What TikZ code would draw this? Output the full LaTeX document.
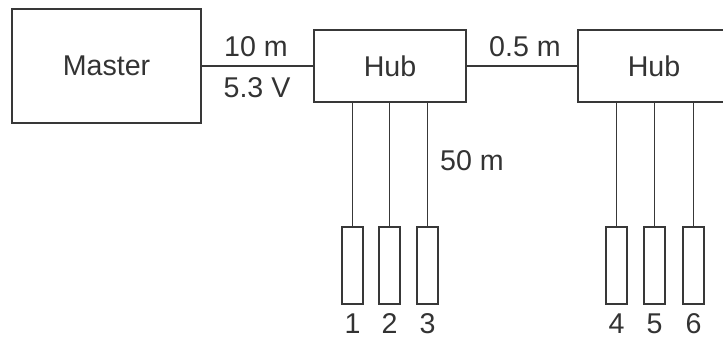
\documentclass[tikz,border=0pt]{standalone}
\usepackage{fontspec}
\setmainfont{Liberation Sans}
\begin{document}
\begin{tikzpicture}[x=0.5pt,y=-0.5pt,
  ln/.style={draw=black!78,line width=0.8pt},
  box/.style={ln,rectangle,inner sep=0pt},
  lbl/.style={text=black!80,font=\fontsize{14.3}{16}\selectfont,inner sep=0pt},
  dev/.style={box,minimum width=10.5pt,minimum height=38.5pt}]
\useasboundingbox (0,0) rectangle (723,338);
\clip (0,0) rectangle (723,338);
\node[box,minimum width=94.5pt,minimum height=57pt] (master) at (106.5,66) {};
\node[lbl] (mt) at (106.5,66) {Master};
\node[box,minimum width=76pt,minimum height=36pt] (hub1) at (390,66) {};
\node[lbl] (h1t) at (390,66) {Hub};
\node[box,minimum width=76pt,minimum height=36pt] (hub2) at (654,66) {};
\node[lbl] (h2t) at (654,66) {Hub};
\draw[ln] (master.east) -- (hub1.west);
\draw[ln] (hub1.east) -- (hub2.west);
\node[lbl] (l10) at (256,47) {10 m};
\node[lbl] (l53) at (257,88) {5.3 V};
\node[lbl] (l05) at (525,47) {0.5 m};
\node[lbl] (l50) at (472,161) {50 m};
\foreach \i/\x in {1/352.5,2/389.5,3/427.5,4/616.5,5/654.5,6/693.5}{
  \node[dev] (d\i) at (\x,265.5) {};
  \node[lbl] (n\i) at (\x,323.5) {\i};
  \coordinate (t\i) at (\x,102);
}
\foreach \i in {1,2,3,4,5,6}{ \draw[ln] (t\i) -- (d\i.north); }
\end{tikzpicture}
\end{document}
